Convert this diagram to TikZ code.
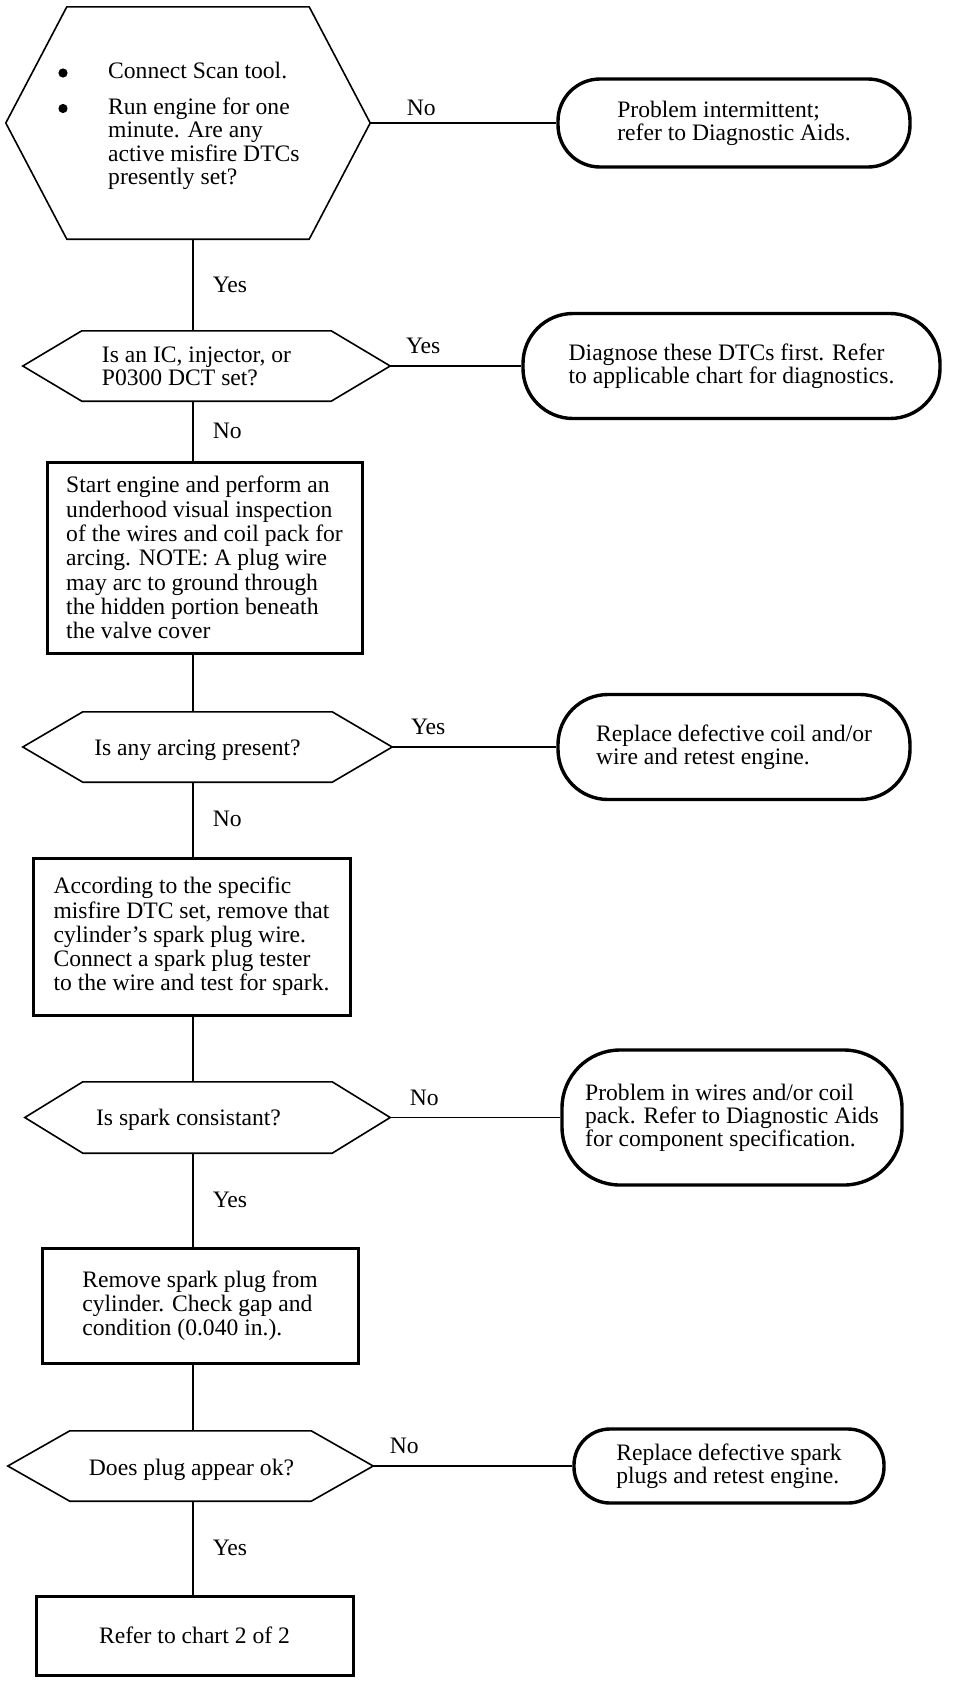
\documentclass[tikz,border=0pt]{standalone}
\usepackage{fontspec}
\setmainfont{Liberation Serif}
\usetikzlibrary{calc}
\newcommand\hexout[2]{\draw[hexline] (#1.west) -- ($(#1.north west)+(#2,0)$) -- ($(#1.north east)+(-#2,0)$) -- (#1.east) -- ($(#1.south east)+(-#2,0)$) -- ($(#1.south west)+(#2,0)$) -- cycle;}
\begin{document}
\begin{tikzpicture}[x=1pt,y=-1pt,
  every node/.style={font=\fontsize{23.6}{23}\selectfont},
  conn/.style={line width=1.6pt},
  hexline/.style={line width=1.6pt, line join=miter},
  hexnode/.style={inner sep=0pt, draw=none},
  stepbox/.style={draw, line width=3pt, align=left, inner sep=0pt, font=\fontsize{23.6}{24.3}\selectfont},
  term/.style={draw, line width=3.4pt, align=left, inner sep=0pt},
  txt/.style={align=left, inner sep=0pt},
  lbl/.style={inner sep=0pt}]
\useasboundingbox (0,0) rectangle (960,1684);
\coordinate (sp) at (193,0);

% decisions
\node[hexnode, minimum width=364, minimum height=232] (h1) at (188,123) {};
\node[hexnode, minimum width=367, minimum height=70] (h2) at (206.5,366) {};
\node[hexnode, minimum width=369, minimum height=70] (h3) at (207.5,747) {};
\node[hexnode, minimum width=365, minimum height=71] (h4) at (207.5,1117.5) {};
\node[hexnode, minimum width=365, minimum height=70] (h5) at (190.5,1466) {};
\hexout{h1}{61}
\hexout{h2}{59}
\hexout{h3}{60}
\hexout{h4}{58}
\hexout{h5}{62}

\node[txt, anchor=west, font=\fontsize{23.6}{23.6}\selectfont] (h1t) at (108,126)
  {Connect Scan tool.\\[12pt]Run engine for one\\minute. Are any\\active misfire DTCs\\presently set?};
\fill (63,73) circle (4.6);
\fill (63,108.5) circle (4.6);
\node[txt] (h2t) at (196.5,366.5) {Is an IC, injector, or\\P0300 DCT set?};
\node[txt] (h3t) at (197.5,750) {Is any arcing present?};
\node[txt] (h4t) at (188.5,1120) {Is spark consistant?};
\node[txt] (h5t) at (191.5,1470) {Does plug appear ok?};

% process boxes
\node[stepbox, minimum width=315, minimum height=191] (b1) at (204.5,557.5)
  {Start engine and perform an\\underhood visual inspection\\of the wires and coil pack for\\arcing. NOTE: A plug wire\\may arc to ground through\\the hidden portion beneath\\the valve cover};
\node[stepbox, minimum width=317, minimum height=157] (b2) at (191.5,936.5)
  {According to the specific\\misfire DTC set, remove that\\cylinder's spark plug wire.\\Connect a spark plug tester\\to the wire and test for spark.};
\node[stepbox, minimum width=316, minimum height=115] (b3) at (200,1305.5)
  {Remove spark plug from\\cylinder. Check gap and\\condition (0.040 in.).};
\node[stepbox, minimum width=317, minimum height=79] (b4) at (194.5,1635.5)
  {Refer to chart 2 of 2};

% terminals
\node[term, minimum width=352, minimum height=88, rounded corners=42] (t1) at (734,123)
  {Problem intermittent;\\refer to Diagnostic Aids.};
\node[term, minimum width=417, minimum height=105, rounded corners=50] (t2) at (731.5,366)
  {Diagnose these DTCs first. Refer\\to applicable chart for diagnostics.};
\node[term, minimum width=352, minimum height=105, rounded corners=50] (t3) at (734,747)
  {Replace defective coil and/or\\wire and retest engine.};
\node[term, minimum width=340, minimum height=135, rounded corners=58] (t4) at (732,1117.5)
  {Problem in wires and/or coil\\pack. Refer to Diagnostic Aids\\for component specification.};
\node[term, minimum width=310, minimum height=74, rounded corners=36] (t5) at (729,1466)
  {Replace defective spark\\plugs and retest engine.};

% vertical connectors
\draw[conn] (h1.south -| sp) -- node[lbl, anchor=west, xshift=19pt] {Yes} (h2.north -| sp);
\draw[conn] (h2.south -| sp) -- node[lbl, anchor=west, xshift=19pt] {No} (b1.north -| sp);
\draw[conn] (b1.south -| sp) -- (h3.north -| sp);
\draw[conn] (h3.south -| sp) -- node[lbl, anchor=west, xshift=19pt] {No} (b2.north -| sp);
\draw[conn] (b2.south -| sp) -- (h4.north -| sp);
\draw[conn] (h4.south -| sp) -- node[lbl, anchor=west, xshift=19pt] {Yes} (b3.north -| sp);
\draw[conn] (b3.south -| sp) -- (h5.north -| sp);
\draw[conn] (h5.south -| sp) -- node[lbl, anchor=west, xshift=19pt] {Yes} (b4.north -| sp);

% horizontal connectors
\draw[conn] (h1.east) -- (t1.west);
\draw[conn] (h2.east) -- (t2.west);
\draw[conn] (h3.east) -- (t3.west);
\draw[conn] (h4.east) -- (t4.west);
\draw[conn] (h5.east) -- (t5.west);
\node[lbl] (l1) at ($(h1.east)+(51,-15)$) {No};
\node[lbl] (l2) at ($(h2.east)+(33,-20)$) {Yes};
\node[lbl] (l3) at ($(h3.east)+(36,-20)$) {Yes};
\node[lbl] (l4) at ($(h4.east)+(34,-20)$) {No};
\node[lbl] (l5) at ($(h5.east)+(31,-20)$) {No};
\end{tikzpicture}
\end{document}
